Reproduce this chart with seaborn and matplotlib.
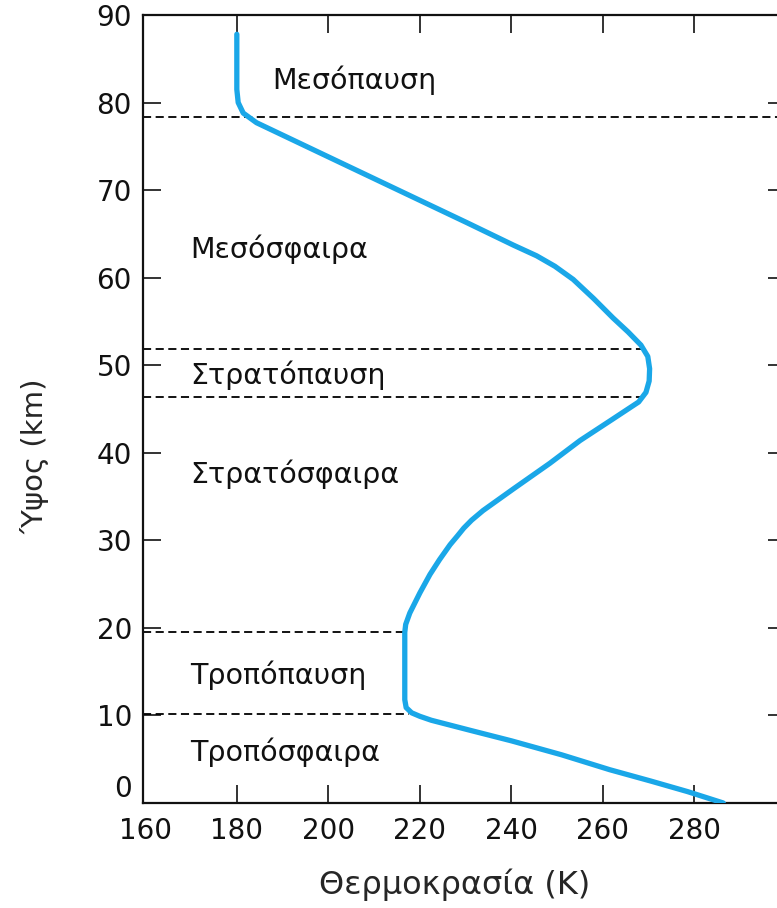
import matplotlib
matplotlib.use('Agg')
import matplotlib.pyplot as plt
import seaborn as sns
import pandas as pd

# temperature profile of the atmosphere
temperature = [180.0, 180.0, 180.3, 181.4, 184.3, 201.2, 216.5, 230.2, 240.5, 245.5,
               249.5, 253.5, 258.0, 262.2, 265.5, 268.3, 269.8, 270.2, 270.1, 269.4,
               267.8, 262.0, 255.0, 248.4, 240.5, 233.8, 231.3, 229.6, 228.2, 226.6,
               224.3, 222.2, 220.0, 217.8, 216.9, 216.7, 216.7, 217.0, 218.2, 220.0,
               222.5, 231.0, 240.0, 251.0, 261.5, 270.5, 278.5, 286.3]
altitude = [87.8, 81.5, 80.0, 78.8, 77.7, 73.5, 69.7, 66.3, 63.7, 62.5,
            61.3, 59.8, 57.6, 55.4, 53.8, 52.3, 51.0, 49.6, 48.2, 46.9,
            45.8, 43.8, 41.4, 38.8, 35.9, 33.4, 32.3, 31.4, 30.5, 29.5,
            27.8, 26.1, 24.0, 21.7, 20.4, 19.5, 11.8, 10.9, 10.3, 9.9,
            9.45, 8.3, 7.1, 5.5, 3.8, 2.5, 1.3, 0.0]

# layer boundaries: altitude and where the dashed line stops (temperature)
boundary_alt = [78.4, 51.9, 46.4, 19.5, 10.2]
boundary_end = [300, 269.6, 269.6, 216.8, 217.6]

layer_names = ['Μεσόπαυση', 'Μεσόσφαιρα', 'Στρατόπαυση', 'Στρατόσφαιρα',
               'Τροπόπαυση', 'Τροπόσφαιρα']
layer_x = [187.7, 169.8, 169.8, 169.8, 169.8, 169.8]
layer_y = [82.6, 63.2, 48.9, 37.5, 14.6, 5.8]

x_ticks = [160, 180, 200, 220, 240, 260, 280]
y_ticks = [0, 10, 20, 30, 40, 50, 60, 70, 80, 90]

sns.set_style('ticks')
plt.rcParams['font.family'] = ['DejaVu Sans']

df = pd.DataFrame({'T': temperature, 'z': altitude})

fig = plt.figure(figsize=(7.77, 9.08), dpi=100)
ax = fig.add_axes([143 / 777, 105 / 908, 643 / 777, 788 / 908])

for z, xe in zip(boundary_alt, boundary_end):
    ax.plot([159.5, xe], [z, z], color='black', lw=1.3, ls=(0, (4.5, 2.5)), zorder=1)

sns.lineplot(data=df, x='T', y='z', sort=False, estimator=None, color='#1AA7E8',
             lw=3.8, ax=ax, zorder=3)

for name, x, y in zip(layer_names, layer_x, layer_y):
    ax.text(x, y, name, fontsize=20.5, va='center', ha='left', color='#111111')

ax.set_xlim(159.5, 300)
ax.set_ylim(0, 90)
ax.set_xticks(x_ticks)
ax.set_yticks(y_ticks)
ax.tick_params(direction='in', length=13, width=1.2, labelsize=20, pad=8,
               top=True, right=True, colors='#111111')
ax.tick_params(axis='x', pad=10)
# no tick mark at 160, it would sit on the left spine
first = ax.xaxis.get_major_ticks()[0]
first.tick1line.set_visible(False)
first.tick2line.set_visible(False)
ax.get_yticklabels()[0].set_va('bottom')
for s in ax.spines.values():
    s.set_linewidth(1.6)
    s.set_color('#111111')

ax.set_xlabel('Θερμοκρασία (K)', fontsize=23)
ax.set_ylabel('Ύψος (km)', fontsize=21)
ax.xaxis.set_label_coords(0.485, -0.083)
ax.yaxis.set_label_coords(-0.145, 0.44)

fig.savefig('out.png', dpi=100)
